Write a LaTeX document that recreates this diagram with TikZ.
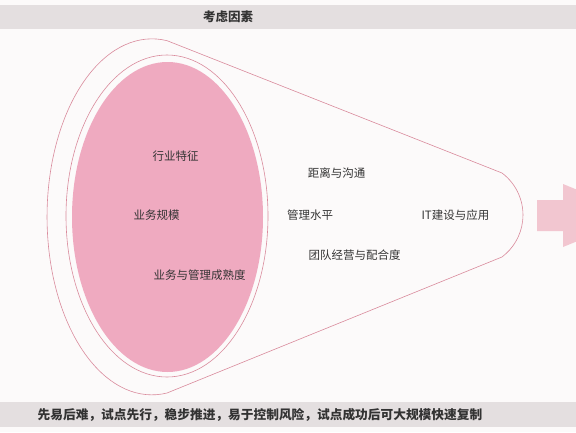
\documentclass[tikz,border=0pt]{standalone}
\usepackage{fontspec}
\newfontfamily\cjk{Noto Sans CJK SC}
\usetikzlibrary{positioning}
\definecolor{bg}{HTML}{FCFAFA}
\definecolor{bar}{HTML}{E4DFE0}
\definecolor{rim}{HTML}{D98A9C}
\definecolor{core}{HTML}{EFAAC0}
\definecolor{flow}{HTML}{F2C6D0}
\definecolor{ink}{HTML}{333333}

\begin{document}
\begin{tikzpicture}[x=1pt,y=-1pt,
    factor/.style={text=ink,font=\cjk\fontsize{11.5}{13}\selectfont,inner sep=0pt},
    title/.style={text=ink,font=\cjk\bfseries\fontsize{12.5}{14}\selectfont,inner sep=0pt}]
    \useasboundingbox (0,0) rectangle (576,432);
    \clip (0,0) rectangle (576,432);
    \fill [bg] (0,0) rectangle (576,432);
    \fill [bar] (0,5) rectangle (576,29);
    \fill [bar] (0,402) rectangle (576,427);
    \node [title] (head) at (228,17) {考虑因素};
    \node [title,font=\cjk\bfseries\fontsize{12.7}{15}\selectfont] (foot) at (260,415)
        {先易后难，试点先行，稳步推进，易于控制风险，试点成功后可大规模快速复制};
    % funnel
    \draw [rim,line width=0.6pt] (167,393) arc [start angle=81.8,end angle=278.2,x radius=105,y radius=178]
        -- (502,173) arc [start angle=-53.1,end angle=53.1,radius=52.5] -- cycle;
    \draw [rim,line width=0.6pt] (167,216) ellipse [x radius=101,y radius=161];
    \fill [core] (167.5,217) ellipse [x radius=95.5,y radius=155];
    % arrow
    \fill [flow] (537,200) -- (563,200) -- (563,184) -- (640,215.5) -- (563,247) -- (563,231) -- (537,231) -- cycle;
    % factors
    \node [factor] (trade) at (175.5,156) {行业特征};
    \node [factor] (scale) at (156.5,215) {业务规模};
    \node [factor] (mature) at (199.5,275) {业务与管理成熟度};
    \node [factor] (level) at (310,215) {管理水平};
    \node [factor] (dist) at (336.5,173) {距离与沟通};
    \node [factor] (team) at (354.5,255) {团队经营与配合度};
    \node [factor] (it) at (455.5,215) {IT建设与应用};
\end{tikzpicture}
\end{document}
